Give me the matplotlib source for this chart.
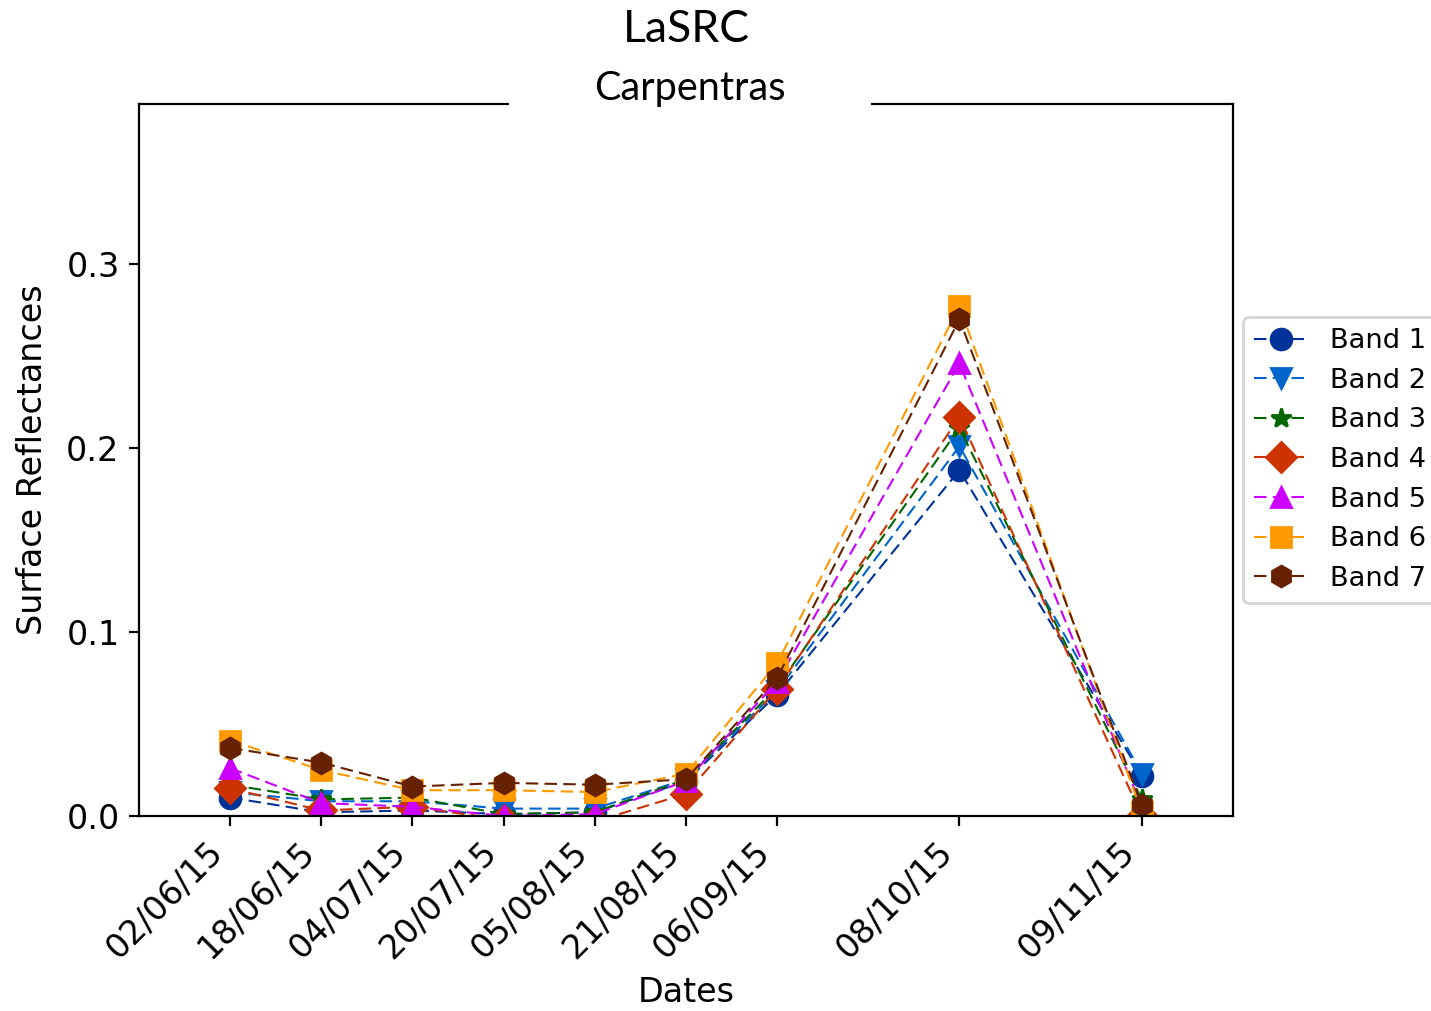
import pandas as pd
import matplotlib
matplotlib.use("Agg")
import matplotlib.pyplot as plt

# === Data ===
dates = ["02/06/15", "18/06/15", "04/07/15", "20/07/15", "05/08/15",
         "21/08/15", "06/09/15", "08/10/15", "09/11/15"]

band1 = [0.010, 0.002, 0.003, 0.001, 0.002, 0.019, 0.066, 0.188, 0.022]
band2 = [0.013, 0.008, 0.008, 0.004, 0.004, 0.020, 0.068, 0.201, 0.023]
band3 = [0.017, 0.009, 0.010, 0.001, 0.002, 0.020, 0.070, 0.211, 0.009]
band4 = [0.015, 0.003, 0.005, -0.002, -0.003, 0.012, 0.069, 0.217, 0.000]
band5 = [0.026, 0.007, 0.005, 0.000, 0.001, 0.019, 0.073, 0.246, 0.005]
band6 = [0.041, 0.025, 0.014, 0.014, 0.013, 0.023, 0.083, 0.277, 0.002]
band7 = [0.037, 0.029, 0.016, 0.018, 0.017, 0.020, 0.075, 0.270, 0.006]

labels = ["Band 1", "Band 2", "Band 3", "Band 4", "Band 5", "Band 6", "Band 7"]
colors = ["#003399", "#0066cc", "#006600", "#cc3300", "#cc00ff", "#ff9900", "#662200"]
markers = ["o", "v", "*", "D", "^", "s", "h"]

x = pd.to_datetime(dates, format="%d/%m/%y")

# === Plot ===
fig = plt.figure(figsize=(7.155, 5.055), dpi=200)
ax = fig.add_axes([0.0971, 0.1929, 0.7645, 0.7042])

for vals, lab, col, mk in zip([band1, band2, band3, band4, band5, band6, band7],
                              labels, colors, markers):
    ax.plot(x, vals, linestyle=(0, (6, 3)), linewidth=0.75, color=col,
            marker=mk, markersize=7.5, label=lab)

ax.set_xlim(x[0] - pd.Timedelta(days=16), x[-1] + pd.Timedelta(days=16))
ax.set_ylim(0, 0.387)
ax.set_yticks([0.0, 0.1, 0.2, 0.3])
ax.set_xticks(x)
ax.set_xticklabels(dates, rotation=45, ha="right")
ax.tick_params(labelsize=12)

ax.set_xlabel("Dates", fontsize=12)
ax.set_ylabel("Surface Reflectances", fontsize=12, labelpad=6)
ax.set_title("Carpentras", fontsize=14.3, family="Lato", pad=0, x=0.504, y=1.005,
             bbox=dict(boxstyle="square,pad=2.15", facecolor="white", edgecolor="none"))
fig.suptitle("LaSRC", fontsize=16, family="Lato", x=0.4794, y=0.971, va="center")

ax.legend(loc="center left", bbox_to_anchor=(0.997, 0.5), fontsize=9.8)

plt.savefig("out.png", dpi=200)
